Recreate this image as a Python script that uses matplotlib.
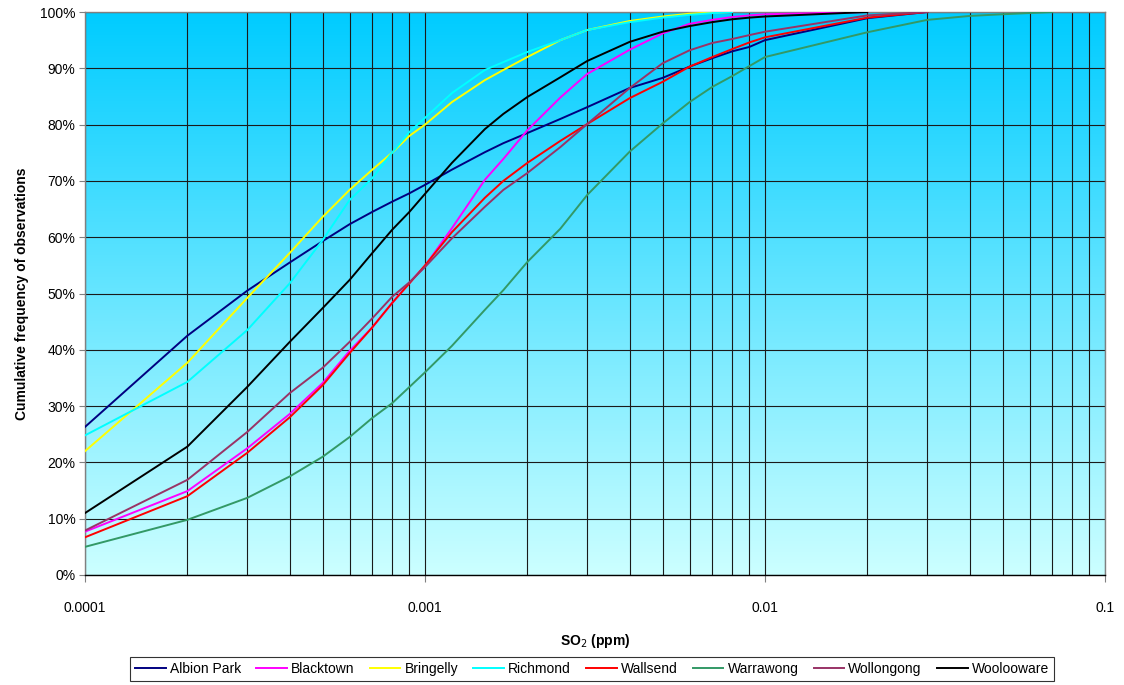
import matplotlib
matplotlib.use('Agg')
import matplotlib.pyplot as plt
import numpy as np
from matplotlib.colors import LinearSegmentedColormap
from matplotlib.ticker import FuncFormatter, LogLocator, NullFormatter

plt.rcParams['font.family'] = ['Liberation Sans', 'DejaVu Sans']

nan = np.nan

# SO2 concentration (ppm)
so2 = [0.0001, 0.0002, 0.0003, 0.0004, 0.0005, 0.0006, 0.0007, 0.0008, 0.0009,
       0.001, 0.0012, 0.0015, 0.0017, 0.002, 0.0025, 0.003, 0.004, 0.005, 0.006,
       0.007, 0.008, 0.009, 0.01, 0.02, 0.03, 0.04, 0.05, 0.07]

# cumulative frequency (%)
albion_park = [26.3, 42.5, 50.5, 55.5, 59.3, 62.3, 64.5, 66.3, 67.8, 69.3, 72.0, 75.1, 76.7, 78.5,
               81.0, 83.1, 86.5, 88.3, 90.3, 91.8, 93.0, 93.8, 95.0, 98.9, 100, nan, nan, nan]
blacktown = [7.7, 14.9, 22.5, 28.6, 34.1, 39.8, 44.0, 48.3, 51.9, 54.9, 61.6, 70.2, 73.9, 79.0,
             84.8, 89.0, 93.3, 96.2, 97.9, 98.6, 99.1, 99.4, 99.6, 100, nan, nan, nan, nan]
bringelly = [22.0, 37.7, 49.2, 57.2, 63.6, 68.4, 72.0, 75.0, 78.0, 80.0, 84.0, 87.9, 89.7, 92.0,
             95.0, 96.8, 98.4, 99.2, 99.7, 99.9, 100, nan, nan, nan, nan, nan, nan, nan]
richmond = [24.8, 34.3, 43.5, 51.8, 59.5, 66.6, 70.5, 75.0, 78.7, 81.2, 85.6, 89.7, 91.1, 92.9,
            95.0, 96.8, 98.2, 99.0, 99.5, 99.8, 100, nan, nan, nan, nan, nan, nan, nan]
wallsend = [6.7, 14.0, 21.7, 28.0, 33.7, 39.4, 44.0, 48.3, 51.8, 55.0, 60.9, 67.0, 70.0, 73.2,
            77.1, 80.1, 84.7, 87.6, 90.3, 92.0, 93.4, 94.6, 95.5, 99.0, 100, nan, nan, nan]
warrawong = [5.0, 9.8, 13.7, 17.5, 21.0, 24.5, 27.9, 30.5, 33.4, 36.0, 40.7, 47.1, 50.6, 55.6,
             61.5, 67.5, 75.2, 80.2, 84.0, 86.7, 88.6, 90.4, 92.0, 96.4, 98.6, 99.3, 99.6, 100]
wollongong = [7.9, 16.9, 25.4, 32.3, 36.8, 41.4, 45.6, 49.4, 52.0, 54.7, 59.8, 65.4, 68.4, 71.4,
              76.0, 80.1, 86.5, 90.9, 93.2, 94.5, 95.2, 95.9, 96.5, 99.4, 100, nan, nan, nan]
woolooware = [11.0, 22.8, 33.4, 41.4, 47.4, 52.4, 57.2, 61.3, 64.5, 67.7, 73.2, 79.2, 81.9, 84.9,
              88.4, 91.3, 94.7, 96.5, 97.5, 98.2, 98.7, 99.0, 99.2, 100, nan, nan, nan, nan]

series = [
    ('Albion Park', albion_park, '#000080'),
    ('Blacktown', blacktown, '#FF00FF'),
    ('Bringelly', bringelly, '#FFFF00'),
    ('Richmond', richmond, '#00FFFF'),
    ('Wallsend', wallsend, '#FF0000'),
    ('Warrawong', warrawong, '#339966'),
    ('Wollongong', wollongong, '#993366'),
    ('Woolooware', woolooware, '#000000'),
]

fig = plt.figure(figsize=(11.24, 6.85), dpi=100)
ax = fig.add_axes([85 / 1124, 110 / 685, 1020 / 1124, 563 / 685])

# gradient plot area
cmap = LinearSegmentedColormap.from_list('bg', ['#CCFFFF', '#00CCFF'])
grad = np.linspace(0, 1, 256).reshape(-1, 1)
ax.imshow(grad, cmap=cmap, aspect='auto', origin='lower',
          extent=[0, 1, 0, 1], transform=ax.transAxes, zorder=0)

for name, vals, col in series:
    ax.plot(so2, vals, color=col, linewidth=1.4, label=name, zorder=3)

ax.set_xscale('log')
ax.set_xlim(0.0001, 0.1)
ax.set_ylim(0, 100)

ax.xaxis.set_major_locator(LogLocator(base=10, numticks=10))
ax.xaxis.set_minor_locator(LogLocator(base=10, subs=np.arange(2, 10), numticks=10))
ax.xaxis.set_minor_formatter(NullFormatter())
ax.xaxis.set_major_formatter(FuncFormatter(lambda v, p: {1e-4: '0.0001', 1e-3: '0.001',
                                                        1e-2: '0.01', 1e-1: '0.1'}.get(round(v, 6), '')))
ax.set_yticks(np.arange(0, 101, 10))
ax.yaxis.set_major_formatter(FuncFormatter(lambda v, p: f'{int(v)}%'))

ax.grid(True, which='both', axis='x', color='#1a1a1a', linewidth=0.8)
ax.grid(True, which='major', axis='y', color='#1a1a1a', linewidth=0.8)
for l in ax.get_xgridlines() + ax.get_ygridlines():
    l.set_zorder(1)

ax.tick_params(axis='x', which='major', length=5, pad=14, labelsize=10, color='#808080')
ax.tick_params(axis='x', which='minor', length=0)
ax.tick_params(axis='y', which='major', length=4, pad=3, labelsize=10, color='#808080')

for s in ax.spines.values():
    s.set_color('#808080')
    s.set_linewidth(1)
ax.spines['bottom'].set_color('#000000')

ax.set_xlabel('SO$_2$ (ppm)', fontsize=10, fontweight='bold', labelpad=12)
ax.set_ylabel('Cumulative frequency of observations', fontsize=10, fontweight='bold', labelpad=8)

leg = fig.legend(loc='center', bbox_to_anchor=(592 / 1124, 1 - 669 / 685), ncol=8,
                 frameon=True, fancybox=False, fontsize=10, handlelength=2.2,
                 handletextpad=0.3, columnspacing=1.1, borderpad=0.35)
leg.get_frame().set_edgecolor('#000000')
leg.get_frame().set_linewidth(0.8)

fig.savefig('out.png', dpi=100)
